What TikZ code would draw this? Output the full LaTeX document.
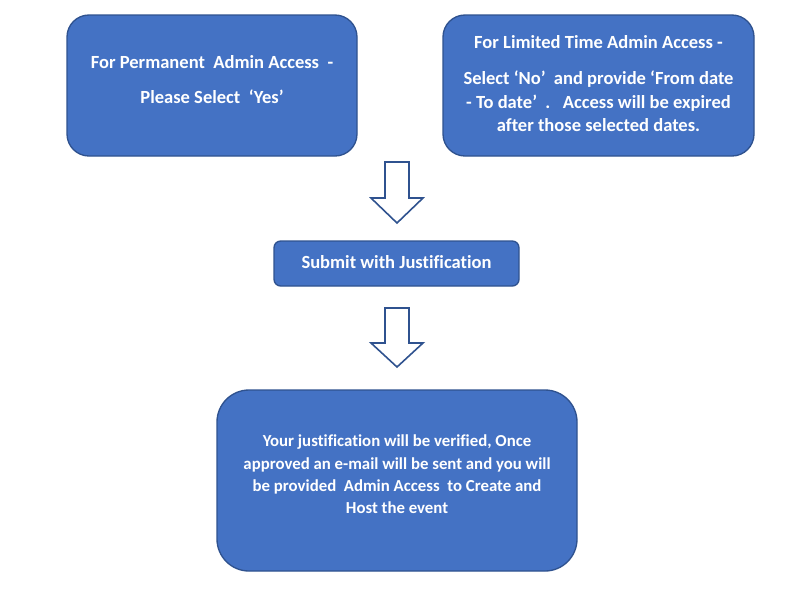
\documentclass[tikz,border=0pt]{standalone}
\usepackage{fontspec}
\setmainfont{Carlito}[Ligatures=NoCommon]
\definecolor{boxfill}{HTML}{4472C4}
\definecolor{boxline}{HTML}{2F528F}
\begin{document}
\begin{tikzpicture}[x=0.75pt,y=-0.75pt,
  card/.style={draw=boxline,fill=boxfill,line width=1pt,inner sep=0pt,outer sep=0pt},
  txt/.style={text=white,font=\fontsize{13.9}{17.5}\selectfont\bfseries,align=center,inner sep=0pt},
  smalltxt/.style={txt,font=\fontsize{12.6}{16.8}\selectfont\bfseries},
  blockarrow/.style={draw=boxline,fill=white,line width=1.2pt,line join=miter}]
\useasboundingbox (0,0) rectangle (807,612);
\fill[white] (0,0) rectangle (807,612);
% boxes
\node[card,rounded corners=16.5pt,minimum width=217.5pt,minimum height=105.75pt] (perm) at (212,85.5) {};
\node[card,rounded corners=16.5pt,minimum width=233.25pt,minimum height=105.75pt] (lim) at (598.5,85.5) {};
\node[card,rounded corners=5pt,minimum width=183.75pt,minimum height=33.75pt] (sub) at (396.5,263.5) {};
\node[card,rounded corners=24pt,minimum width=270pt,minimum height=135.75pt] (fin) at (397,480.5) {};
% texts
\node[txt] (permt) at (212,79.5) {For Permanent~~Admin Access~~-\\[9.2pt]Please Select~~‘Yes’};
\node[txt] (limt) at (598.5,83.5) {For Limited Time Admin Access -\\[9.8pt]Select ‘No’~~and provide ‘From date\\- To date’~~.~~~Access will be expired\\after those selected dates.};
\node[txt] (subt) at (396.5,262) {Submit with Justification};
\node[smalltxt] (fint) at (397,474.5) {Your justification will be verified, Once\\approved an e-mail will be sent and you will\\be provided~~Admin Access~~to Create and\\Host the event};
% block arrows
\draw[blockarrow] (385,162) -- (409,162) -- (409,198) -- (423,198) -- (397,223) -- (371,198) -- (385,198) -- cycle;
\draw[blockarrow] (385,308) -- (409,308) -- (409,343) -- (423,343) -- (397,367) -- (371,343) -- (385,343) -- cycle;
\end{tikzpicture}
\end{document}
